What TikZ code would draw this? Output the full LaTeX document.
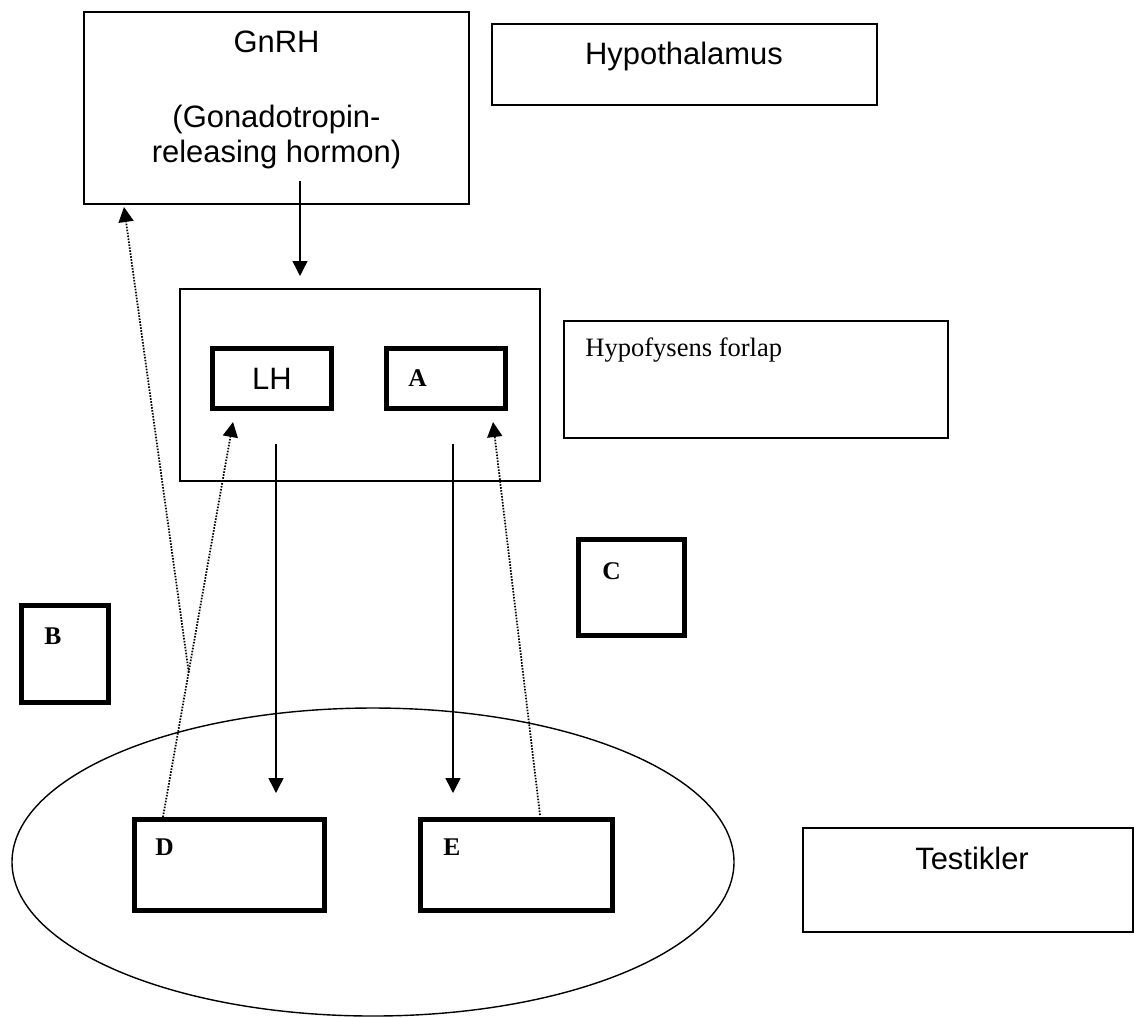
\documentclass[tikz,border=0pt]{standalone}
\usepackage{fontspec}
\setmainfont{Liberation Serif}
\newfontfamily\arialfont{Liberation Sans}
\newcommand{\sanstxt}{\arialfont\fontsize{17.6}{20}\selectfont}
\newcommand{\seriftxt}{\fontsize{15.1}{18}\selectfont}
\newcommand{\lettertxt}{\bfseries\fontsize{14.5}{17}\selectfont}
\usetikzlibrary{arrows.meta,calc,shapes.geometric}

\begin{document}
\begin{tikzpicture}[
        box/.style = {draw, line width=0.8pt, inner sep=0pt}, % tynne rammer
        hormon/.style = {draw, line width=2.8pt, inner sep=0pt}, % tykke rammer
        txt/.style = {font=\sanstxt, inner sep=0pt, anchor=base},
        note/.style = {font=\seriftxt, inner sep=0pt, anchor=base west},
        letter/.style = {font=\lettertxt, inner sep=0pt, anchor=base west},
        flow/.style = {line width=0.8pt, -{Triangle[length=0.3cm, width=0.3cm]}},
        feedback/.style = {flow, line width=1pt, dash pattern=on 0.9pt off 0.8pt}, % tilbakekobling
    ]
    \useasboundingbox (0,0) rectangle (22.7,-20.34);

    % Hypothalamus
    \node[box, minimum width=7.7cm, minimum height=3.84cm] (gnrh) at (5.53,-2.16) {};
    \node[txt] (gnrh1) at (5.53,-1.04) {GnRH};
    \node[txt] (gnrh2) at (5.53,-2.54) {(Gonadotropin-};
    \node[txt] (gnrh3) at (5.53,-3.24) {releasing hormon)};
    \node[box, minimum width=7.7cm, minimum height=1.62cm] (hypothal) at (13.69,-1.29) {};
    \node[txt] (hypothaltxt) at (13.68,-1.28) {Hypothalamus};

    % Hypofysens forlap
    \node[box, minimum width=7.2cm, minimum height=3.84cm] (front) at (7.2,-7.7) {};
    \node[hormon, font=\sanstxt, minimum width=2.38cm, minimum height=1.2cm] (lh) at (5.44,-7.57) {LH};
    \node[hormon, minimum width=2.38cm, minimum height=1.2cm] (a) at (8.92,-7.57) {};
    \node[letter] (atxt) at (8.16,-7.72) {A};
    \node[box, minimum width=7.68cm, minimum height=2.34cm] (forlap) at (15.12,-7.59) {};
    \node[note] (forlaptxt) at (11.70,-7.12) {Hypofysens forlap};

    \node[hormon, minimum width=1.74cm, minimum height=1.94cm] (b) at (1.30,-13.08) {};
    \node[letter] (btxt) at (0.88,-12.88) {B};
    \node[hormon, minimum width=2.12cm, minimum height=1.92cm] (c) at (12.63,-11.75) {};
    \node[letter] (ctxt) at (12.04,-11.58) {C};

    % Testikler
    \node[box, ellipse, minimum width=14.44cm, minimum height=6.16cm] (testis) at (7.46,-17.24) {};
    \node[hormon, minimum width=3.8cm, minimum height=1.82cm] (d) at (4.59,-17.30) {};
    \node[letter] (dtxt) at (3.10,-17.10) {D};
    \node[hormon, minimum width=3.84cm, minimum height=1.82cm] (e) at (10.33,-17.30) {};
    \node[letter] (etxt) at (8.86,-17.10) {E};
    \node[box, minimum width=6.6cm, minimum height=2.08cm] (testikler) at (19.36,-17.60) {};
    \node[txt] (testiklertxt) at (19.44,-17.38) {Testikler};

    \coordinate (gout) at (6.00,-3.62);
    \coordinate (gin) at (6.00,-5.52);
    \coordinate (lhout) at (5.52,-8.88);
    \coordinate (dtip) at (5.52,-15.86);
    \coordinate (aout) at (9.06,-8.88);
    \coordinate (etip) at (9.06,-15.86);
    \coordinate (dfb) at (3.26,-16.34);
    \coordinate (lhfb) at (4.66,-8.44);
    \coordinate (efb) at (10.80,-16.30);
    \coordinate (afb) at (9.86,-8.44);
    \coordinate (gfb) at (2.48,-4.14);
    \coordinate (split) at ($(dfb)!0.367!(lhfb)$);

    \draw[flow] (gout) -- (gin);
    \draw[flow] (lhout) -- (dtip);
    \draw[flow] (aout) -- (etip);
    \draw[feedback] (dfb) -- (lhfb);
    \draw[feedback] (efb) -- (afb);
    \draw[feedback] (split) -- (gfb);
\end{tikzpicture}
\end{document}
